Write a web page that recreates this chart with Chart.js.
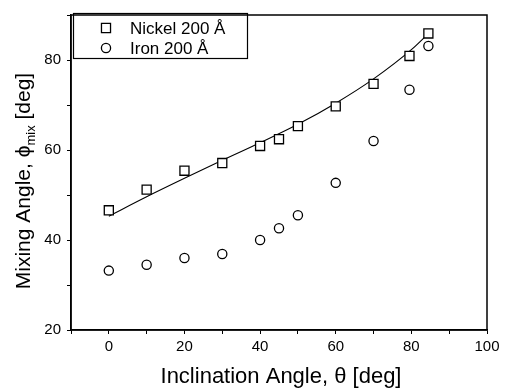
<!DOCTYPE html>
<html>
<head>
<meta charset="utf-8">
<script src="https://cdn.jsdelivr.net/npm/chart.js@4.4.1/dist/chart.umd.min.js"></script>
<style>
  html, body { margin: 0; padding: 0; background: #fff; }
</style>
</head>
<body>
<canvas id="mix-chart" width="508" height="389"></canvas>
<script>
// inclination angle (x) for the measured points
const thetaX = [0, 10, 20, 30, 40, 45, 50, 60, 70, 79.5, 84.5]
const nickelY = [46.6, 51.2, 55.4, 57.1, 60.9, 62.4, 65.3, 69.7, 74.7, 80.9, 85.9]
const ironY = [33.2, 34.5, 36.0, 36.9, 40.0, 42.6, 45.5, 52.7, 62.0, 73.4, 83.1]

// fitted curve through the nickel points
const fitX = [0, 10, 20, 30, 40, 50, 60, 70, 80, 85]
const fitY = [45.3, 49.6, 53.7, 57.7, 61.6, 65.7, 70.4, 75.8, 82.3, 86.3]

const xTicks = [0, 20, 40, 60, 80, 100]
const yTicks = [20, 40, 60, 80]

const FONT = "'Liberation Sans', Arial, sans-serif"

const toPoints = (xs, ys) => xs.map((x, i) => ({ x: x, y: ys[i] }))

// box round the plot + legend box + axis titles (y title needs a subscript)
const decorations = {
    id: 'decorations',
    afterDraw(chart) {
        const ctx = chart.ctx
        const a = chart.chartArea
        ctx.save()
        ctx.strokeStyle = '#000'
        ctx.lineWidth = 1.5
        ctx.strokeRect(a.left, a.top, a.right - a.left, a.bottom - a.top)

        // legend
        ctx.lineWidth = 1.2
        ctx.strokeRect(73.5, 13.5, 174, 45)
        const shown = chart.data.datasets.filter(d => !d.showLine)
        shown.forEach((d, i) => {
            const y = 28 + i * 20
            ctx.strokeStyle = '#000'
            ctx.fillStyle = '#fff'
            ctx.lineWidth = d.borderWidth
            Chart.helpers.drawPoint(ctx, {
                pointStyle: d.pointStyle, radius: d.pointRadius, rotation: 0, borderWidth: d.borderWidth
            }, 106, y)
            ctx.fillStyle = '#000'
            ctx.font = '17px ' + FONT
            ctx.textBaseline = 'middle'
            ctx.textAlign = 'left'
            ctx.fillText(d.label, 130, y + 1)
        })

        // x title
        ctx.fillStyle = '#000'
        ctx.font = '22px ' + FONT
        ctx.textAlign = 'center'
        ctx.textBaseline = 'alphabetic'
        ctx.fillText('Inclination Angle, \u03b8 [deg]', (a.left + a.right) / 2 + 2, 383)

        // y title, rotated, with subscript
        const main = 'Mixing Angle, \u03d5'
        const sub = 'mix'
        const tail = ' [deg]'
        ctx.font = '21px ' + FONT
        const wMain = ctx.measureText(main).width
        const wTail = ctx.measureText(tail).width
        ctx.font = '13px ' + FONT
        const wSub = ctx.measureText(sub).width
        const total = wMain + wSub + wTail
        ctx.translate(30, 181)
        ctx.rotate(-Math.PI / 2)
        ctx.textAlign = 'left'
        let x = -total / 2
        ctx.font = '21px ' + FONT
        ctx.fillText(main, x, 0)
        x += wMain
        ctx.font = '13px ' + FONT
        ctx.fillText(sub, x, 5)
        x += wSub
        ctx.font = '21px ' + FONT
        ctx.fillText(tail, x, 0)
        ctx.restore()
    }
}

new Chart("mix-chart", {
    type: "scatter",
    data: {
        datasets: [
            {
                label: "Nickel 200 \u00c5",
                data: toPoints(thetaX, nickelY),
                pointStyle: "rect",
                pointRadius: 6.4,
                borderWidth: 1.3,
                borderColor: "#000",
                backgroundColor: "#fff"
            },
            {
                label: "Iron 200 \u00c5",
                data: toPoints(thetaX, ironY),
                pointStyle: "circle",
                pointRadius: 4.6,
                borderWidth: 1.3,
                borderColor: "#000",
                backgroundColor: "#fff"
            },
            {
                label: "fit",
                data: toPoints(fitX, fitY),
                showLine: true,
                pointRadius: 0,
                borderWidth: 1.1,
                borderColor: "#000",
                cubicInterpolationMode: "monotone"
            }
        ]
    },
    options: {
        responsive: false,
        animation: false,
        layout: { padding: { top: 9, right: 21, left: 0, bottom: 0 } },
        plugins: {
            legend: { display: false },
            tooltip: { enabled: false }
        },
        scales: {
            x: {
                type: "linear",
                min: -10,
                max: 100,
                afterFit: s => { s.height = 59 },
                ticks: {
                    stepSize: 10,
                    color: "#000",
                    padding: 4,
                    maxRotation: 0,
                    font: { family: FONT, size: 15 },
                    callback: v => xTicks.includes(v) ? v : ''
                },
                grid: { drawOnChartArea: false, tickLength: 4, color: "#000" },
                border: { color: "#000", width: 1.5 }
            },
            y: {
                min: 20,
                max: 90,
                afterFit: s => { s.width = 71 },
                ticks: {
                    stepSize: 10,
                    color: "#000",
                    padding: 6,
                    font: { family: FONT, size: 15 },
                    callback: v => yTicks.includes(v) ? v : ''
                },
                grid: { drawOnChartArea: false, tickLength: 4, color: "#000" },
                border: { color: "#000", width: 1.5 }
            }
        }
    },
    plugins: [decorations]
});
</script>
</body>
</html>
